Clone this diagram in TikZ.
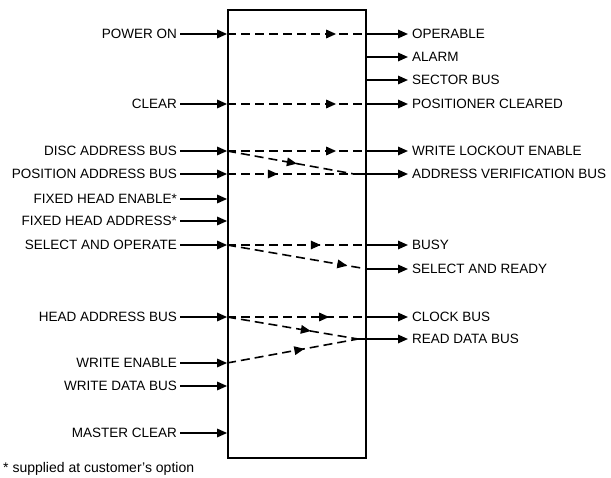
\documentclass[tikz,border=0pt]{standalone}
\usepackage{fontspec}
\setmainfont{Liberation Sans}
\usetikzlibrary{arrows.meta,decorations.markings,positioning}

\tikzset{
  sig/.style={font=\fontsize{13.5}{15}\selectfont, inner ysep=0pt, text height=9.8pt, text depth=0pt},
  inlabel/.style={sig, anchor=east, inner xsep=3pt},
  outlabel/.style={sig, anchor=west, inner xsep=4pt},
  unit/.style={draw, line width=1.8pt, minimum width=138pt, minimum height=448pt, inner sep=0pt},
  wire/.style={line width=1.6pt, -{Triangle[length=10pt,width=8.5pt]}},
  route/.style={line width=1.6pt, dash pattern=on 9pt off 5pt,
    postaction={decorate},
    decoration={markings, mark=at position #1 with {\arrow{Triangle[length=10pt,width=8.5pt]}}}},
  note/.style={font=\fontsize{14}{16}\selectfont, anchor=west, inner sep=0pt}
}

\begin{document}
\begin{tikzpicture}[x=1pt, y=-1pt]
  \useasboundingbox (0,0) rectangle (611,478);

  \node[unit] (drum) at (297,234) {};

  % inputs
  \foreach \y/\n/\t in {34/pwr/POWER ON, 104/clr/CLEAR, 151/dab/DISC ADDRESS BUS,
      174/pab/POSITION ADDRESS BUS, 199/fhe/FIXED HEAD ENABLE*, 221/fha/FIXED HEAD ADDRESS*,
      245/sao/SELECT AND OPERATE, 317/hab/HEAD ADDRESS BUS, 363/wen/WRITE ENABLE,
      386/wdb/WRITE DATA BUS, 433/mcl/MASTER CLEAR} {
    \node[inlabel] (\n) at (180,\y) {\t};
    \draw[wire] (\n.east) -- (\n.east -| drum.west);
  }

  % outputs
  \foreach \y/\n/\t in {34/opr/OPERABLE, 57/alm/ALARM, 80/sec/SECTOR BUS,
      104/pcl/POSITIONER CLEARED, 151/wle/WRITE LOCKOUT ENABLE,
      245/bsy/BUSY, 269/sar/SELECT AND READY, 317/clk/CLOCK BUS} {
    \node[outlabel] (\n) at (408,\y) {\t};
    \draw[wire] (\n.west -| drum.east) -- (\n.west);
  }
  \node[outlabel] (avb) at (408,174) {ADDRESS VERIFICATION BUS};
  \node[outlabel] (rdb) at (408,339) {READ DATA BUS};
  \coordinate (avj) at (354,174);
  \coordinate (rdj) at (358,339);
  \draw[wire] (avj) -- (avb.west);
  \draw[wire] (rdj) -- (rdb.west);

  % paths through the unit
  \draw[route=0.78] (pwr.east -| drum.west) -- (opr.west -| drum.east);
  \draw[route=0.78] (clr.east -| drum.west) -- (pcl.west -| drum.east);
  \draw[route=0.78] (dab.east -| drum.west) -- (wle.west -| drum.east);
  \draw[route=0.55] (dab.east -| drum.west) -- (avj);
  \draw[route=0.40] (pab.east -| drum.west) -- (avj);
  \draw[route=0.67] (sao.east -| drum.west) -- (bsy.west -| drum.east);
  \draw[route=0.86] (sao.east -| drum.west) -- (sar.west -| drum.east);
  \draw[route=0.73] (hab.east -| drum.west) -- (clk.west -| drum.east);
  \draw[route=0.64] (hab.east -| drum.west) -- (rdj);
  \draw[route=0.59] (wen.east -| drum.west) -- (rdj);

  \node[note] (fn) at (3,469) {* supplied at customer's option};
\end{tikzpicture}
\end{document}
